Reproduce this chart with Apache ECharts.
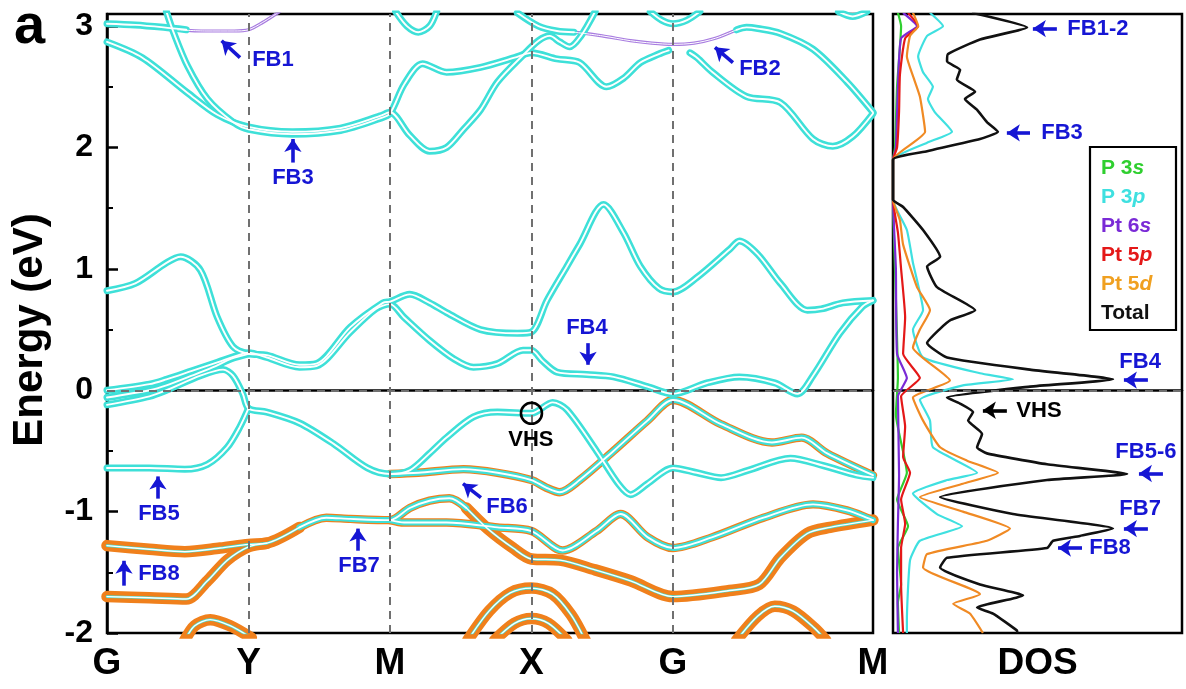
<!DOCTYPE html>
<html><head><meta charset="utf-8">
<script src="https://cdn.jsdelivr.net/npm/echarts@6/dist/echarts.min.js"></script>
<style>html,body{margin:0;padding:0;background:#fff}#c{width:1186px;height:689px}</style>
</head><body><div id="c"></div>
<script>
// ---------------- DATA ----------------
// k-path high-symmetry points (G-Y-M-X-G-M)
const kPos = [0, 1, 2, 3, 4, 5.414];
const kLabels = ['G', 'Y', 'M', 'X', 'G', 'M'];
const energyTicks = [-2, -1, 0, 1, 2, 3];
const minorTickE = [-1.5, -0.5, 0.5, 1.5, 2.5];

// band lines: [k, E(eV)]
const fb3Band = [[0,2.87],[0.25,2.74],[0.57,2.45],[0.78,2.27],[1.0,2.17],[1.31,2.13],[1.65,2.16],[1.93,2.26],[2.0,2.29],[2.14,2.10],[2.28,1.97],[2.40,2.00],[2.52,2.15],[2.64,2.31],[2.76,2.54],[2.94,2.76],[3.05,2.88],[3.13,2.92],[3.2,2.87],[3.27,2.83],[3.35,2.92],[3.45,3.12]];
const u2Band = [[0.42,3.12],[0.47,2.95],[0.57,2.67],[0.71,2.40],[0.89,2.21],[1.0,2.15],[1.31,2.11],[1.65,2.14],[1.93,2.24],[2.0,2.28],[2.1,2.52],[2.23,2.69],[2.40,2.62],[2.64,2.66],[2.88,2.74],[3.0,2.78],[3.18,2.73],[3.34,2.70],[3.53,2.50],[3.65,2.57],[3.77,2.70],[3.9,2.77],[3.97,2.80]];
const fb1Head = [[0,3.02],[0.2,3.01],[0.4,2.99],[0.56,2.97]];
const fb1Band = [[0.5,2.97],[0.7,2.96],[0.9,2.96],[1.0,2.97],[1.1,3.03],[1.22,3.12]];
const fb2Head = [[2.9,3.11],[3.05,3.0],[3.18,2.96],[3.3,2.95]];
const fb2Band = [[3.3,2.95],[3.5,2.92],[3.7,2.88],[3.85,2.86],[4.0,2.85],[4.15,2.86],[4.3,2.90],[4.45,2.97]];
const fb2Tail = [[4.45,2.97],[4.52,2.99],[4.6,2.98],[4.76,2.94],[4.99,2.81],[5.23,2.54],[5.414,2.29]];
const u3Band = [[4.12,2.78],[4.17,2.74],[4.28,2.62],[4.52,2.42],[4.76,2.37],[4.99,2.07],[5.13,2.01],[5.27,2.09],[5.414,2.28]];
const arcTopM = [[2.04,3.12],[2.12,3.0],[2.2,2.95],[2.28,3.0],[2.33,3.12]];
const arcTopG = [[3.84,3.12],[3.92,3.05],[4.0,3.02],[4.1,3.05],[4.19,3.12]];
const arcTopR = [[5.17,3.12],[5.27,3.08],[5.37,3.12]];

const m1Band = [[0,0.82],[0.2,0.88],[0.42,1.05],[0.52,1.10],[0.66,0.99],[0.78,0.60],[0.89,0.36],[1.0,0.30],[1.13,0.29],[1.36,0.21],[1.48,0.22],[1.72,0.52],[1.95,0.72],[2.0,0.73],[2.14,0.79],[2.28,0.72],[2.40,0.64],[2.64,0.50],[2.9,0.47],[3.0,0.48],[3.11,0.74],[3.25,1.02],[3.34,1.20],[3.51,1.53],[3.65,1.30],[3.77,1.02],[3.9,0.84],[4.0,0.81],[4.17,0.93],[4.40,1.16],[4.47,1.23],[4.6,1.12],[4.76,0.88],[4.95,0.66],[5.05,0.67],[5.2,0.72],[5.414,0.74]];
const m2Band = [[0,0.0],[0.3,0.05],[0.42,0.09],[0.6,0.16],[0.78,0.23],[0.93,0.29],[1.0,0.31],[1.13,0.27],[1.36,0.19],[1.48,0.20],[1.72,0.48],[1.9,0.67],[2.0,0.71],[2.1,0.60],[2.28,0.41],[2.45,0.26],[2.59,0.19],[2.76,0.22],[2.94,0.33],[3.0,0.33],[3.08,0.24],[3.18,0.15],[3.39,0.13],[3.58,0.11],[3.82,0.03],[4.0,-0.03],[4.24,0.06],[4.47,0.11],[4.72,0.06],[4.88,-0.03],[4.99,0.12],[5.18,0.47],[5.34,0.69],[5.414,0.74]];
const m3Band = [[0,-0.06],[0.3,0.0],[0.42,0.04],[0.6,0.12],[0.75,0.19],[0.88,0.26],[1.0,0.30]];
const vhsBand = [[0,-0.12],[0.3,-0.05],[0.42,0.0],[0.66,0.12],[0.82,0.17],[0.89,0.12],[0.96,-0.03],[1.0,-0.15],[1.13,-0.18],[1.36,-0.27],[1.6,-0.44],[1.84,-0.64],[2.0,-0.69],[2.14,-0.66],[2.28,-0.52],[2.40,-0.39],[2.59,-0.22],[2.76,-0.18],[3.0,-0.19],[3.15,-0.10],[3.25,-0.16],[3.46,-0.50],[3.62,-0.78],[3.70,-0.86],[3.82,-0.77],[4.0,-0.64],[4.17,-0.68],[4.34,-0.72],[4.53,-0.66],[4.83,-0.56],[5.06,-0.62],[5.30,-0.70],[5.414,-0.72]];
const fb5Band = [[0,-0.64],[0.3,-0.64],[0.55,-0.65],[0.71,-0.61],[0.85,-0.47],[0.94,-0.30],[1.0,-0.15]];
const fb6Band = [[2.0,-0.69],[2.2,-0.68],[2.52,-0.65],[2.76,-0.68],[3.0,-0.74],[3.1,-0.80],[3.2,-0.84],[3.34,-0.74],[3.58,-0.50],[3.82,-0.25],[4.0,-0.08],[4.34,-0.28],[4.70,-0.43],[4.91,-0.39],[5.09,-0.52],[5.414,-0.70]];

const fb8Band = [[0,-1.28],[0.3,-1.31],[0.55,-1.33],[0.8,-1.30],[1.0,-1.27],[1.13,-1.26],[1.36,-1.13]];
const fb7Band = [[1.36,-1.13],[1.55,-1.05],[1.72,-1.06],[2.0,-1.07],[2.14,-0.97],[2.28,-0.91],[2.42,-0.89],[2.54,-0.97]];
const l1Band = [[2.54,-0.97],[2.69,-1.14],[2.87,-1.30],[3.0,-1.39],[3.2,-1.40],[3.45,-1.48],[3.7,-1.57],[4.0,-1.70],[4.4,-1.65],[4.61,-1.60],[4.76,-1.38],[4.95,-1.18],[5.11,-1.13],[5.414,-1.07]];
const l2Band = [[0,-1.70],[0.3,-1.71],[0.56,-1.72],[0.71,-1.57],[0.85,-1.40],[1.0,-1.29],[1.13,-1.26]];
const l3Band = [[2.0,-1.07],[2.1,-1.09],[2.4,-1.09],[2.76,-1.13],[3.0,-1.16],[3.22,-1.32],[3.46,-1.16],[3.63,-1.02],[3.82,-1.21],[4.0,-1.30],[4.28,-1.21],[4.64,-1.05],[4.99,-0.94],[5.23,-0.99],[5.414,-1.07]];
const arcY = [[0.55,-2.06],[0.62,-1.94],[0.73,-1.89],[0.87,-1.94],[1.02,-2.04]];
const arcX1 = [[2.55,-2.06],[2.7,-1.82],[2.85,-1.67],[3.0,-1.63],[3.15,-1.68],[3.28,-1.85],[3.38,-2.06]];
const arcX2 = [[2.74,-2.06],[2.88,-1.92],[3.0,-1.88],[3.12,-1.92],[3.25,-2.06]];
const arcGM = [[4.45,-2.06],[4.6,-1.86],[4.72,-1.78],[4.85,-1.82],[5.0,-1.96],[5.08,-2.06]];

// DOS curves: [E(eV), DOS (arb. units)]
const dosTotal = [[3.11,2.73],[2.99,4.64],[2.89,3.01],[2.77,1.90],[2.71,1.87],[2.64,2.32],[2.56,2.21],[2.46,2.84],[2.40,2.49],[2.31,2.91],[2.21,3.25],[2.13,3.63],[2.07,3.01],[1.97,1.18],[1.90,0],[1.57,0],[1.51,0.35],[1.32,1.04],[1.10,1.63],[1.02,1.18],[0.85,1.52],[0.66,2.84],[0.58,2.0],[0.50,1.6],[0.39,1.18],[0.27,1.87],[0.17,4.74],[0.09,7.61],[0.03,4.74],[-0.06,1.87],[-0.11,2.32],[-0.18,2.77],[-0.25,2.6],[-0.36,3.08],[-0.47,2.91],[-0.52,3.25],[-0.61,5.33],[-0.69,8.10],[-0.74,5.33],[-0.88,1.63],[-1.02,4.15],[-1.14,7.61],[-1.20,6.47],[-1.24,5.54],[-1.30,5.33],[-1.38,1.87],[-1.46,1.63],[-1.60,3.01],[-1.69,4.5],[-1.79,2.91],[-1.84,3.46],[-1.98,4.29],[-2.0,4.3]];
const dosP3p = [[3.11,1.28],[3.0,1.73],[2.92,1.18],[2.75,0.87],[2.62,1.04],[2.50,1.38],[2.40,1.21],[2.29,1.45],[2.13,2.04],[2.04,1.18],[1.90,0],[1.57,0],[1.32,0.48],[1.05,0.69],[0.66,1.04],[0.50,0.69],[0.27,1.04],[0.14,3.01],[0.09,4.15],[0.04,2.42],[-0.08,0.93],[-0.25,1.28],[-0.47,1.38],[-0.68,2.91],[-0.74,1.87],[-0.85,0.69],[-1.02,1.52],[-1.12,2.39],[-1.24,0.93],[-1.40,0.59],[-1.90,0.48],[-2.0,0.48]];
const dosPt5d = [[3.11,0.69],[3.0,0.87],[2.92,0.59],[2.75,0.48],[2.59,0.69],[2.42,0.93],[2.13,1.11],[1.90,0],[1.57,0],[1.40,0.24],[1.20,0.35],[0.85,0.83],[0.66,1.28],[0.50,0.93],[0.35,0.69],[0.08,1.97],[-0.06,0.69],[-0.25,1.04],[-0.47,1.63],[-0.58,2.56],[-0.68,3.63],[-0.77,2.42],[-0.88,0.93],[-1.0,2.42],[-1.14,4.05],[-1.24,3.25],[-1.35,1.18],[-1.46,1.04],[-1.68,3.01],[-1.76,2.08],[-1.84,2.66],[-2.0,3.11]];
const dosPt5p = [[3.11,0.52],[3.0,0.87],[2.9,0.42],[2.6,0.24],[2.3,0.21],[2.0,0.14],[1.9,0],[1.57,0],[1.3,0.17],[1.0,0.28],[0.6,0.42],[0.3,0.35],[0.1,0.93],[-0.05,0.28],[-0.3,0.42],[-0.55,0.35],[-0.68,0.59],[-0.9,0.28],[-1.1,0.42],[-1.3,0.28],[-1.6,0.28],[-2.0,0.35]];
const dosPt6s = [[3.11,0.35],[3.0,0.83],[2.9,0.28],[2.5,0.17],[2.0,0.10],[1.9,0],[1.57,0],[1.0,0.10],[0.3,0.14],[0.1,0.48],[-0.05,0.17],[-0.7,0.21],[-1.1,0.17],[-1.5,0.14],[-2.0,0.17]];
const dosP3s = [[3.11,0.17],[3.0,0.28],[2.5,0.14],[2.0,0.07],[1.9,0],[1.57,0],[1.0,0.07],[0.1,0.17],[-0.2,0.10],[-0.68,0.48],[-0.9,0.14],[-1.12,0.52],[-1.3,0.17],[-1.6,0.28],[-1.75,0.17],[-2.0,0.21]];

const dosNames = ['P 3s', 'P 3p', 'Pt 6s', 'Pt 5p', 'Pt 5d', 'Total'];

// annotations: [text, textK, textE, tailK, tailE, headK, headE]
const bandNotes = [
  ['FB1', 1.173, 2.72, 0.94, 2.74, 0.81, 2.88],
  ['FB2', 4.615, 2.645, 4.424, 2.70, 4.297, 2.826],
  ['FB3', 1.314, 1.75, 1.314, 1.876, 1.314, 2.07],
  ['FB4', 3.392, 0.512, 3.40, 0.388, 3.40, 0.21],
  ['FB5', 0.367, -1.017, 0.36, -0.893, 0.36, -0.71],
  ['FB6', 2.827, -0.959, 2.643, -0.884, 2.516, -0.769],
  ['FB7', 1.781, -1.446, 1.774, -1.322, 1.774, -1.14],
  ['FB8', 0.367, -1.512, 0.12, -1.61, 0.12, -1.405]
];
const vhsNote = ['VHS', 2.996, -0.413, 3.0, -0.19];
const dosNotes = [
  ['FB1-2', 7.09, 2.98, 5.67, 2.98, 4.84, 2.98],
  ['FB3', 5.85, 2.12, 4.74, 2.12, 3.94, 2.12],
  ['FB4', 8.55, 0.23, 8.82, 0.083, 7.99, 0.083],
  ['VHS', 5.05, -0.17, 3.94, -0.165, 3.11, -0.165],
  ['FB5-6', 8.75, -0.51, 9.34, -0.686, 8.51, -0.686],
  ['FB7', 8.55, -0.975, 8.82, -1.14, 7.99, -1.14],
  ['FB8', 7.51, -1.30, 6.54, -1.30, 5.71, -1.30]
];

// ---------------- STYLE ----------------
const FONT = '"Liberation Sans", Arial, Helvetica, sans-serif';
const COL = {cyan:'#3ee0d8', orange:'#f0801c', white:'#ffffff', purple:'#a87ce0', blue:'#1616d4'};
const layerSets = {
  p: [[COL.cyan, 7], [COL.white, 1.9]],
  d: [[COL.orange, 11.5], [COL.cyan, 2.6], [COL.white, 1.4]],
  m: [[COL.orange, 8.4], [COL.cyan, 6.0], [COL.white, 1.9]],
  v: [[COL.purple, 3.2], [COL.white, 1.0]]
};
const bandDefs = [
  [fb3Band,'p'],[u2Band,'p'],[fb1Head,'p'],[fb1Band,'v'],[fb2Head,'p'],[fb2Band,'v'],[fb2Tail,'p'],[u3Band,'p'],
  [arcTopM,'p'],[arcTopG,'p'],[arcTopR,'p'],
  [m1Band,'p'],[m2Band,'p'],[m3Band,'p'],[vhsBand,'p'],[fb5Band,'p'],[fb6Band,'m'],
  [fb8Band,'d'],[fb7Band,'m'],[l1Band,'d'],[l2Band,'d'],[l3Band,'m'],[arcY,'d'],[arcX1,'d'],[arcX2,'d'],[arcGM,'d']
];
const dosCurves = [dosP3s, dosP3p, dosPt6s, dosPt5p, dosPt5d, dosTotal];
const dosColors = ['#2fcf2f', '#3fe0e0', '#7a2ad6', '#e41818', '#f08a24', '#111111'];
const legendColors = ['#2fcf2f', '#3fe0e0', '#7a2ad6', '#e41818', '#f0a020', '#111111'];

// ---------------- BUILD ----------------
const series = [];
// reference dashed lines (under bands)
series.push({
  type:'line', xAxisIndex:0, yAxisIndex:0, data:[], silent:true, z:1,
  markLine:{silent:true, animation:false, symbol:'none', label:{show:false},
    lineStyle:{color:'#707070', width:2, type:[8,6]},
    data: kPos.slice(1,5).map(v => ({xAxis:v})).concat([{yAxis:0}])}
});
series.push({
  type:'line', xAxisIndex:1, yAxisIndex:1, data:[], silent:true, z:1,
  markLine:{silent:true, animation:false, symbol:'none', label:{show:false},
    lineStyle:{color:'#707070', width:2, type:[8,6]}, data:[{yAxis:0}]}
});
// band layers, drawn by colour so white cores stay on top
[COL.orange, COL.purple, COL.cyan, COL.white].forEach(c => {
  bandDefs.forEach(([pts, sty]) => {
    layerSets[sty].forEach(([lc, w]) => {
      if (lc !== c) return;
      series.push({type:'line', xAxisIndex:0, yAxisIndex:0, data:pts, showSymbol:false, symbol:'none',
        smooth:0.3, silent:true, z:2, animation:false,
        lineStyle:{color:lc, width:w, cap:'round', join:'round'}});
    });
  });
});
// DOS curves
dosCurves.forEach((cv, i) => {
  series.push({name:dosNames[i], type:'line', xAxisIndex:1, yAxisIndex:1,
    data: cv.map(([e, v]) => [v, e]), showSymbol:false, symbol:'none', smooth:0.15, silent:true, z:3,
    lineStyle:{color:dosColors[i], width: i === 5 ? 2.6 : 2.2}});
});
// annotations
function noteSeries(xi, yi, notes, extraPoints) {
  return {
    type:'line', xAxisIndex:xi, yAxisIndex:yi, data:[], silent:true, z:10,
    markPoint:{silent:true, animation:false, symbol:'circle', symbolSize:0,
      label:{show:true, position:'inside', fontSize:22, fontWeight:'bold', fontFamily:FONT, color:COL.blue, formatter: p => p.name},
      data: notes.map(n => ({name:n[0], coord:[n[1], n[2]],
        label:{color: n[0] === 'VHS' ? '#000' : COL.blue}})).concat(extraPoints || [])},
    markLine:{silent:true, animation:false, symbol:['none','arrow'], symbolSize:13, label:{show:false},
      lineStyle:{color:COL.blue, width:3.6, type:'solid'},
      data: notes.filter(n => n.length > 5).map(n => [
        {coord:[n[3], n[4]], lineStyle:{color: n[0] === 'VHS' ? '#000' : COL.blue}},
        {coord:[n[5], n[6]]}])}
  };
}
series.push(noteSeries(0, 0, bandNotes.concat([[vhsNote[0], vhsNote[1], vhsNote[2]]]), [
  {name:'', coord:[vhsNote[3], vhsNote[4]], symbol:'circle', symbolSize:21,
   itemStyle:{color:'rgba(0,0,0,0)', borderColor:'#000', borderWidth:2.6}, label:{show:false}}
]));
series.push(noteSeries(1, 1, dosNotes));

// legend (custom, with italic orbital letters)
const legendGraphic = [{type:'rect', shape:{x:1090, y:147, width:86, height:183},
  style:{fill:'#fff', stroke:'#000', lineWidth:2.2}, z:20}];
dosNames.forEach((nm, i) => {
  const isTotal = nm === 'Total';
  const head = isTotal ? nm : nm.slice(0, -1);
  const tail = isTotal ? '' : nm.slice(-1);
  legendGraphic.push({type:'text', x:1101, y:168 + i * 29, z:21,
    style:{text: tail ? '{a|' + head + '}{b|' + tail + '}' : '{a|' + head + '}', verticalAlign:'middle',
      rich:{a:{fontSize:21, fontWeight:'bold', fontFamily:FONT, fill:legendColors[i], color:legendColors[i]},
            b:{fontSize:21, fontWeight:'bold', fontStyle:'italic', fontFamily:FONT, fill:legendColors[i], color:legendColors[i]}}}});
});

const option = {
  animation:false,
  backgroundColor:'#fff',
  title:{text:'a', left:9, top:-5, textStyle:{fontSize:56, fontWeight:'bold', fontFamily:FONT, color:'#000'}},
  grid:[
    {left:107, top:14, width:766, height:619, show:true, borderColor:'#000', borderWidth:2.5, containLabel:false},
    {left:893, top:14, width:289, height:619, show:true, borderColor:'#000', borderWidth:2.5, containLabel:false}
  ],
  xAxis:[
    {gridIndex:0, type:'value', min:0, max:5.414,
      axisLine:{show:true, lineStyle:{color:'#000', width:2.5}}, axisTick:{show:false}, splitLine:{show:false},
      axisLabel:{customValues:kPos, color:'#000', fontSize:37, fontWeight:'bold', fontFamily:FONT, margin:12,
        formatter: v => { const i = kPos.findIndex(p => Math.abs(p - v) < 1e-6); return i >= 0 ? kLabels[i] : ''; }}},
    {gridIndex:1, type:'value', min:0, max:10,
      axisLine:{show:true, lineStyle:{color:'#000', width:2.5}}, axisTick:{show:false}, axisLabel:{show:false}, splitLine:{show:false},
      name:'DOS', nameLocation:'middle', nameGap:12,
      nameTextStyle:{color:'#000', fontSize:37, fontWeight:'bold', fontFamily:FONT, verticalAlign:'top'}}
  ],
  yAxis:[
    {gridIndex:0, type:'value', min:-2, max:3.1, interval:1,
      axisLine:{show:true, lineStyle:{color:'#000', width:2.5}},
      axisTick:{show:true, inside:true, length:11, customValues:energyTicks, lineStyle:{color:'#000', width:2.5}},
      splitLine:{show:false},
      axisLabel:{customValues:energyTicks, color:'#000', fontSize:32, fontWeight:'bold', fontFamily:FONT, margin:14,
        formatter: v => String(v)},
      name:'Energy (eV)', nameLocation:'middle', nameRotate:90, nameGap:56,
      nameTextStyle:{color:'#000', fontSize:42, fontWeight:'bold', fontFamily:FONT, padding:[0,13,0,0]}},
    {gridIndex:1, type:'value', min:-2, max:3.1, interval:1,
      axisLine:{show:false}, axisTick:{show:false}, axisLabel:{show:false}, splitLine:{show:false}},
    {gridIndex:0, type:'value', min:-2, max:3.1, position:'left',
      axisLine:{show:false}, axisLabel:{show:false}, splitLine:{show:false},
      axisTick:{show:true, inside:true, length:6, customValues:minorTickE, lineStyle:{color:'#000', width:2}}}
  ],
  graphic: legendGraphic,
  series: series
};
const chart = echarts.init(document.getElementById('c'), null, {renderer:'canvas'});
chart.setOption(option);
</script></body></html>
